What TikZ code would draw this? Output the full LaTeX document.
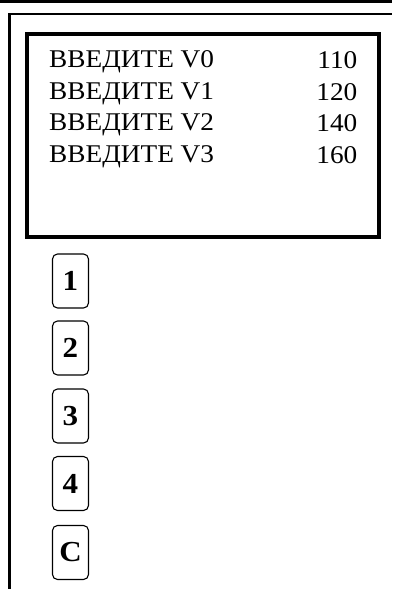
\documentclass[tikz,border=0pt]{standalone}
\usepackage{fontspec}
\setmainfont[FakeStretch=1.07]{Liberation Serif}
\usetikzlibrary{positioning}

\begin{document}
\begin{tikzpicture}[x=1pt, y=-1pt,
    frame/.style={line width=2.8pt},
    screen/.style={line width=3.6pt},
    keybox/.style={draw, line width=1.1pt, rounded corners=5pt, minimum width=36pt, minimum height=54pt, inner sep=0pt, font=\fontsize{29}{29}\selectfont\bfseries},
    prompt/.style={anchor=base west, inner sep=0pt, font=\fontsize{25.5}{25.5}\selectfont},
    amount/.style={anchor=base east, inner sep=0pt, font=\fontsize{25.5}{25.5}\selectfont}]
  \useasboundingbox (0,0) rectangle (392,589);

  % Frame
  \coordinate (topl) at (0,1.7);
  \coordinate (topr) at (392,1.7);
  \draw[line width=3pt] (topl) -- (topr);
  \coordinate (frameb) at (9.7,589);
  \coordinate (framec) at (9.7,14);
  \coordinate (framer) at (392,14);
  \draw[frame] (frameb) -- (framec) -- (framer);

  % Screen
  \node[draw, screen, minimum width=352pt, minimum height=203pt, inner sep=0pt] (screen) at (203,135.5) {};

  % Rows
  \foreach \i/\v [count=\r from 0] in {0/110, 1/120, 2/140, 3/160} {
    \node[prompt] (prompt\i) at (49, 67.7+31.6*\r) {ВВЕДИТЕ V\i};
    \node[amount] (amount\i) at (357.5, 68.7+31.6*\r) {\v};
  }

  % Keys
  \node[keybox] (key1) at (70.5,281) {1};
  \node[keybox] (key2) at (70.5,348) {2};
  \node[keybox] (key3) at (70.5,416) {3};
  \node[keybox] (key4) at (70.5,483.5) {4};
  \node[keybox] (keyC) at (70.5,552.5) {C};
\end{tikzpicture}
\end{document}
